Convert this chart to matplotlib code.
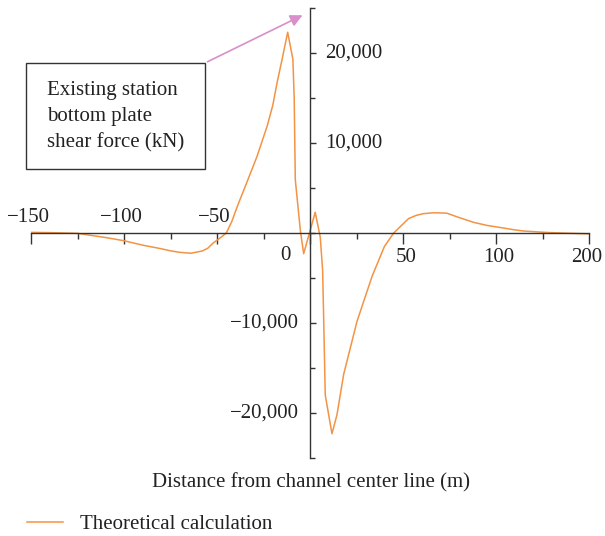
import matplotlib
matplotlib.use("Agg")
import matplotlib.pyplot as plt
from matplotlib.patches import Rectangle, FancyArrowPatch
from matplotlib.ticker import MultipleLocator, FixedLocator

plt.rcParams['font.family'] = ['Liberation Serif', 'DejaVu Serif']

# ---- data ----
distance = [-150, -140, -125, -110, -100, -90, -80, -75, -70, -64, -58, -55, -52,
            -48, -45, -42, -39, -34, -28.5, -23, -20, -17.7, -15, -12, -9.2,
            -8.5, -7.9, -5.2, -3.4, 2.8, 5.5, 6.8, 7.3, 8.2, 11.8, 14.5, 18.1,
            25.3, 33.4, 40, 45, 50, 53, 57, 61, 66.5, 73.6, 79, 88, 95, 100.5,
            110, 114.8, 127.4, 135, 150]
shear = [70, 40, -40, -500, -860, -1350, -1750, -1980, -2150, -2250, -2000, -1700, -1100,
         -500, 0, 1300, 3000, 5600, 8500, 11900, 14200, 16700, 19300, 22300, 19300,
         15000, 5900, 300, -2300, 2300, -450, -4150, -9000, -18000, -22300, -20200, -15700,
         -9800, -4800, -1500, 0, 1000, 1600, 1950, 2150, 2250, 2200, 1800, 1180, 850, 670,
         350, 220, 60, 0, -100]
series_name = "Theoretical calculation"
x_tick_values = [-150, -100, -50, 0, 50, 100, 150]
x_tick_labels = ["\u2212150", "\u2212100", "\u221250", "0", "50", "100", "200"]
y_tick_values = [20000, 10000, -10000, -20000]
y_tick_labels = ["20,000", "10,000", "\u221210,000", "\u221220,000"]
x_label = "Distance from channel center line (m)"
box_lines = ["Existing station", "bottom plate", "shear force (kN)"]

W, H = 605, 536
fig = plt.figure(figsize=(W / 100, H / 100), dpi=100)
ax = fig.add_axes([31 / W, 1 - 458 / H, (589 - 31) / W, (458 - 8) / H])

line_color = '#f39343'
ax.plot(distance, shear, color=line_color, lw=1.1, label=series_name)

ax.set_xlim(-150, 150)
ax.set_ylim(-25000, 25000)

axis_color = '#333333'
for s in ['top', 'right']:
    ax.spines[s].set_visible(False)
ax.spines['left'].set_position(('data', 0))
ax.spines['bottom'].set_position(('data', 0))
for s in ['left', 'bottom']:
    ax.spines[s].set_color(axis_color)
    ax.spines[s].set_linewidth(1.0)

ax.xaxis.set_major_locator(FixedLocator(x_tick_values))
ax.xaxis.set_minor_locator(MultipleLocator(25))
ax.yaxis.set_major_locator(FixedLocator(y_tick_values))
ax.yaxis.set_minor_locator(MultipleLocator(5000))
ax.tick_params(axis='x', which='major', direction='out', length=8, width=1.0,
               color=axis_color, labelbottom=False)
ax.tick_params(axis='x', which='minor', direction='out', length=4.3, width=1.0,
               color=axis_color)
ax.tick_params(axis='y', which='major', direction='in', length=4.5, width=1.0,
               color=axis_color, labelleft=False)
ax.tick_params(axis='y', which='minor', direction='in', length=3.8, width=1.0,
               color=axis_color)

fs = 15
tc = '#222222'
for v, lab in zip(x_tick_values, x_tick_labels):
    if v < 0:
        ax.annotate(lab, xy=(v, 0), xytext=(-2, 11), textcoords='offset points',
                    ha='center', va='center', fontsize=fs, color=tc)
    elif v == 0:
        ax.annotate(lab, xy=(v, 0), xytext=(-18, -16), textcoords='offset points',
                    ha='center', va='center', fontsize=fs, color=tc)
    elif v == x_tick_values[-1]:
        ax.annotate(lab, xy=(v, 0), xytext=(-2, -18), textcoords='offset points',
                    ha='center', va='center', fontsize=fs, color=tc,
                    annotation_clip=False)
    else:
        ax.annotate(lab, xy=(v, 0), xytext=(2, -18), textcoords='offset points',
                    ha='center', va='center', fontsize=fs, color=tc,
                    annotation_clip=False)
for v, lab in zip(y_tick_values, y_tick_labels):
    if v > 0:
        ax.annotate(lab, xy=(0, v), xytext=(11, 0), textcoords='offset points',
                    ha='left', va='center', fontsize=fs, color=tc)
    else:
        ax.annotate(lab, xy=(0, v), xytext=(-8, 0), textcoords='offset points',
                    ha='right', va='center', fontsize=fs, color=tc)

fig.text(311 / W, 1 - 483 / H, x_label, ha='center', va='center', fontsize=fs, color=tc)

# annotation box
fig.add_artist(Rectangle((26 / W, 1 - 169 / H), (205 - 26) / W, (169 - 63) / H,
                         transform=fig.transFigure, fill=False, ec='#333333', lw=1.0))
for i, t in enumerate(box_lines):
    fig.text(47 / W, 1 - (90 + 26.5 * i) / H, t, ha='left', va='center',
             fontsize=fs, color=tc)
arrow = FancyArrowPatch((205 / W, 1 - 63 / H), (305 / W, 1 - 14 / H),
                        transform=fig.transFigure, arrowstyle='-|>',
                        mutation_scale=18, color='#d88fca', lw=1.2)
fig.add_artist(arrow)

# legend
leg = fig.legend(loc='center left', bbox_to_anchor=(27 / W, 1 - 524 / H),
                 frameon=False, fontsize=fs, handlelength=1.75, handletextpad=0.8,
                 borderpad=0, borderaxespad=0)
for t in leg.get_texts():
    t.set_color(tc)

fig.savefig('out.png', dpi=100)
